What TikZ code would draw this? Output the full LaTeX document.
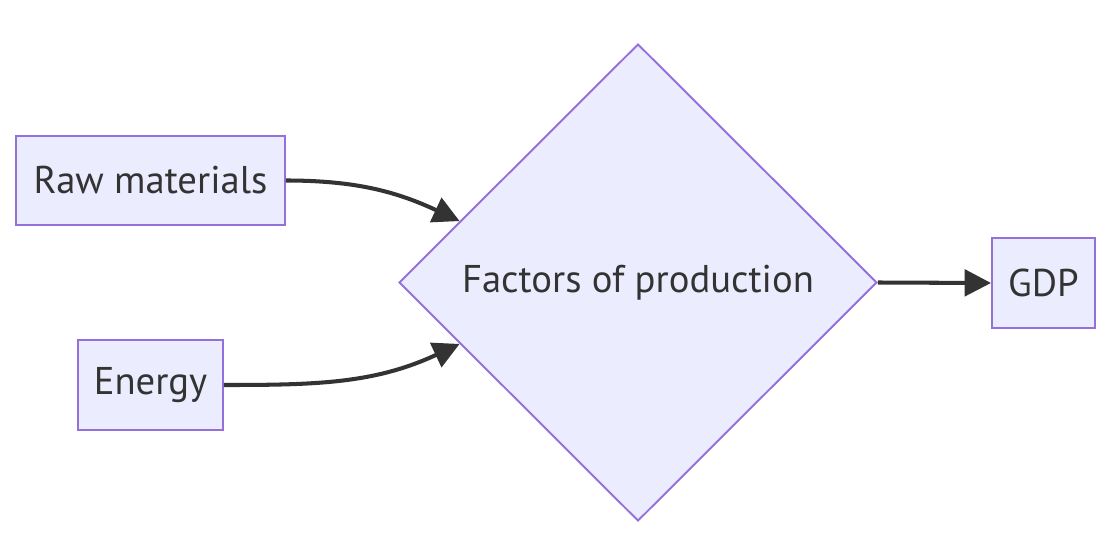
\documentclass[tikz,border=0pt]{standalone}
\usepackage{fontspec}
\setmainfont{PT Sans}
\usepackage{tikz}
\usetikzlibrary{positioning, arrows.meta, shapes.geometric}

\definecolor{nodefill}{HTML}{ECECFF}
\definecolor{nodeline}{HTML}{9370DB}
\definecolor{edgeline}{HTML}{333333}

\begin{document}
\begin{tikzpicture}[>={Triangle[length=15pt, width=15pt]},
  box/.style={draw=nodeline, fill=nodefill, line width=1.1pt,
    minimum height=1.79cm, inner sep=0pt, text=edgeline,
    font=\fontsize{22}{25}\selectfont},
  decision/.style={diamond, draw=nodeline, fill=nodefill, line width=1.1pt,
    aspect=1, minimum width=9.56cm, minimum height=9.54cm, inner sep=0pt,
    text=edgeline, font=\fontsize{22}{25}\selectfont},
  flow/.style={->, draw=edgeline, line width=2.3pt}]

\useasboundingbox (0, 0) rectangle (22.24, -10.94);

% --- Inputs (left) ---
\node[box, minimum width=5.38cm] (raw) at (3.01, -3.61) {Raw materials};
\node[box, minimum width=2.90cm] (energy) at (3.01, -7.70) {Energy};

% --- Decision ---
\node[decision] (factors) at (12.76, -5.65) {Factors of production};

% --- Output (right) ---
\node[box, minimum width=2.06cm] (gdp) at (20.87, -5.66) {GDP};

% Edges
\draw[flow] (raw.east) to[out=0, in=155] (factors.161);
\draw[flow] (energy.east) to[out=0, in=205] (factors.199);
\draw[flow] (factors.east) -- (gdp.west);

\end{tikzpicture}
\end{document}
